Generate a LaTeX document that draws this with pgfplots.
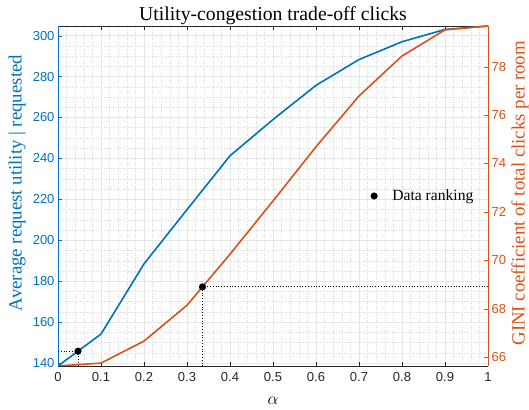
\documentclass[border=0pt]{standalone}
\usepackage{fontspec}
\setmainfont{Liberation Serif}
\setsansfont{Liberation Sans}
\usepackage{pgfplots}
\pgfplotsset{compat=1.18}
\definecolor{mblue}{rgb}{0,0.447,0.741}
\definecolor{morange}{rgb}{0.851,0.325,0.098}
\definecolor{axgray}{rgb}{0.15,0.15,0.15}
\definecolor{majgrid}{rgb}{0.89,0.905,0.92}
\definecolor{mingrid}{rgb}{0.84,0.855,0.87}
\pgfplotsset{
  common/.style={
    scale only axis, width=430pt, height=340pt,
    xmin=0, xmax=1,
    tick align=inside,
    major tick length=4.3pt,
    minor tick length=0pt,
    /pgf/number format/assume math mode=true,
    ticklabel style={font=\sffamily\fontsize{13}{13}\selectfont},
    label style={font=\fontsize{18.8}{18.8}\selectfont},
  }
}
\begin{document}
\begin{tikzpicture}
\begin{axis}[common,
  ymin=138.6, ymax=304.7,
  separate axis lines,
  x axis line style={color=axgray, line width=0.5pt},
  y axis line style={color=mblue, line width=0.5pt},
  xtick={0,0.1,0.2,0.3,0.4,0.5,0.6,0.7,0.8,0.9,1},
  xticklabels={0,0.1,0.2,0.3,0.4,0.5,0.6,0.7,0.8,0.9,1},
  xtick pos=both,
  ytick={140,160,180,200,220,240,260,280,300},
  ytick pos=left,
  xtick style={color=axgray},
  ytick style={color=mblue},
  xticklabel style={color=axgray, yshift=-3pt},
  yticklabel style={color=mblue},
  minor x tick num=4,
  minor y tick num=3,
  grid=both,
  major grid style={color=majgrid, line width=0.5pt},
  minor grid style={color=mingrid, dotted, line width=0.5pt},
  title={Utility-congestion trade-off clicks},
  title style={font=\fontsize{19.7}{19.7}\selectfont, at={(0.5,1)}, anchor=south, yshift=-7pt, inner sep=2pt},
  xlabel={$\alpha$},
  xlabel style={at={(axis description cs:0.5,0)}, anchor=center, yshift=-35pt, font=\fontsize{19}{19}\selectfont},
  ylabel={Average request utility | requested},
  ylabel style={at={(axis description cs:-0.0953,0.538)}, anchor=center, color=mblue},
]
\addplot[mblue, line width=1.6pt] coordinates {
 (0,138.6) (0.1,154.2) (0.2,188.5) (0.3,215) (0.4,241.3) (0.5,259) (0.6,275.7) (0.7,288.3) (0.8,297) (0.9,303) (1,304.7)
};
\addplot[black, dotted, line width=0.8pt] coordinates {(0,145.85) (0.0465,145.85) (0.0465,138.6)};
\addplot[only marks, mark=*, mark size=3.3pt, black] coordinates {(0.0465,145.85)};
\coordinate (sw) at (rel axis cs:0,0);
\coordinate (ne) at (rel axis cs:1,1);
\end{axis}
\begin{axis}[common,
  ymin=65.63, ymax=79.68,
  axis x line=none,
  axis y line*=right,
  y axis line style={-, color=morange, line width=0.5pt},
  ytick={66,68,70,72,74,76,78},
  ytick style={color=morange},
  yticklabel style={color=morange},
  ylabel={GINI coefficient of total clicks per room},
  ylabel style={at={(axis description cs:1.0744,0.508)}, anchor=center, color=morange},
  legend style={at={(rel axis cs:0.72,0.5)}, anchor=west, draw=none, fill=none, column sep=13pt, font=\fontsize{15.6}{16}\selectfont},
]
\addplot[morange, line width=1.6pt] coordinates {
 (0,65.63) (0.1,65.75) (0.2,66.66) (0.3,68.14) (0.4,70.25) (0.5,72.45) (0.6,74.69) (0.7,76.79) (0.8,78.44) (0.9,79.52) (1,79.68)
};
\addplot[black, dotted, line width=0.8pt, forget plot] coordinates {(1,68.9) (0.336,68.9) (0.336,65.63)};
\addplot[only marks, mark=*, mark size=3.3pt, black] coordinates {(0.336,68.9)};
\legend{,Data ranking}
\end{axis}
\pgfresetboundingbox
\path ([xshift=-58pt,yshift=-43pt]sw) rectangle ([xshift=41pt,yshift=26pt]ne);
\end{tikzpicture}
\end{document}
